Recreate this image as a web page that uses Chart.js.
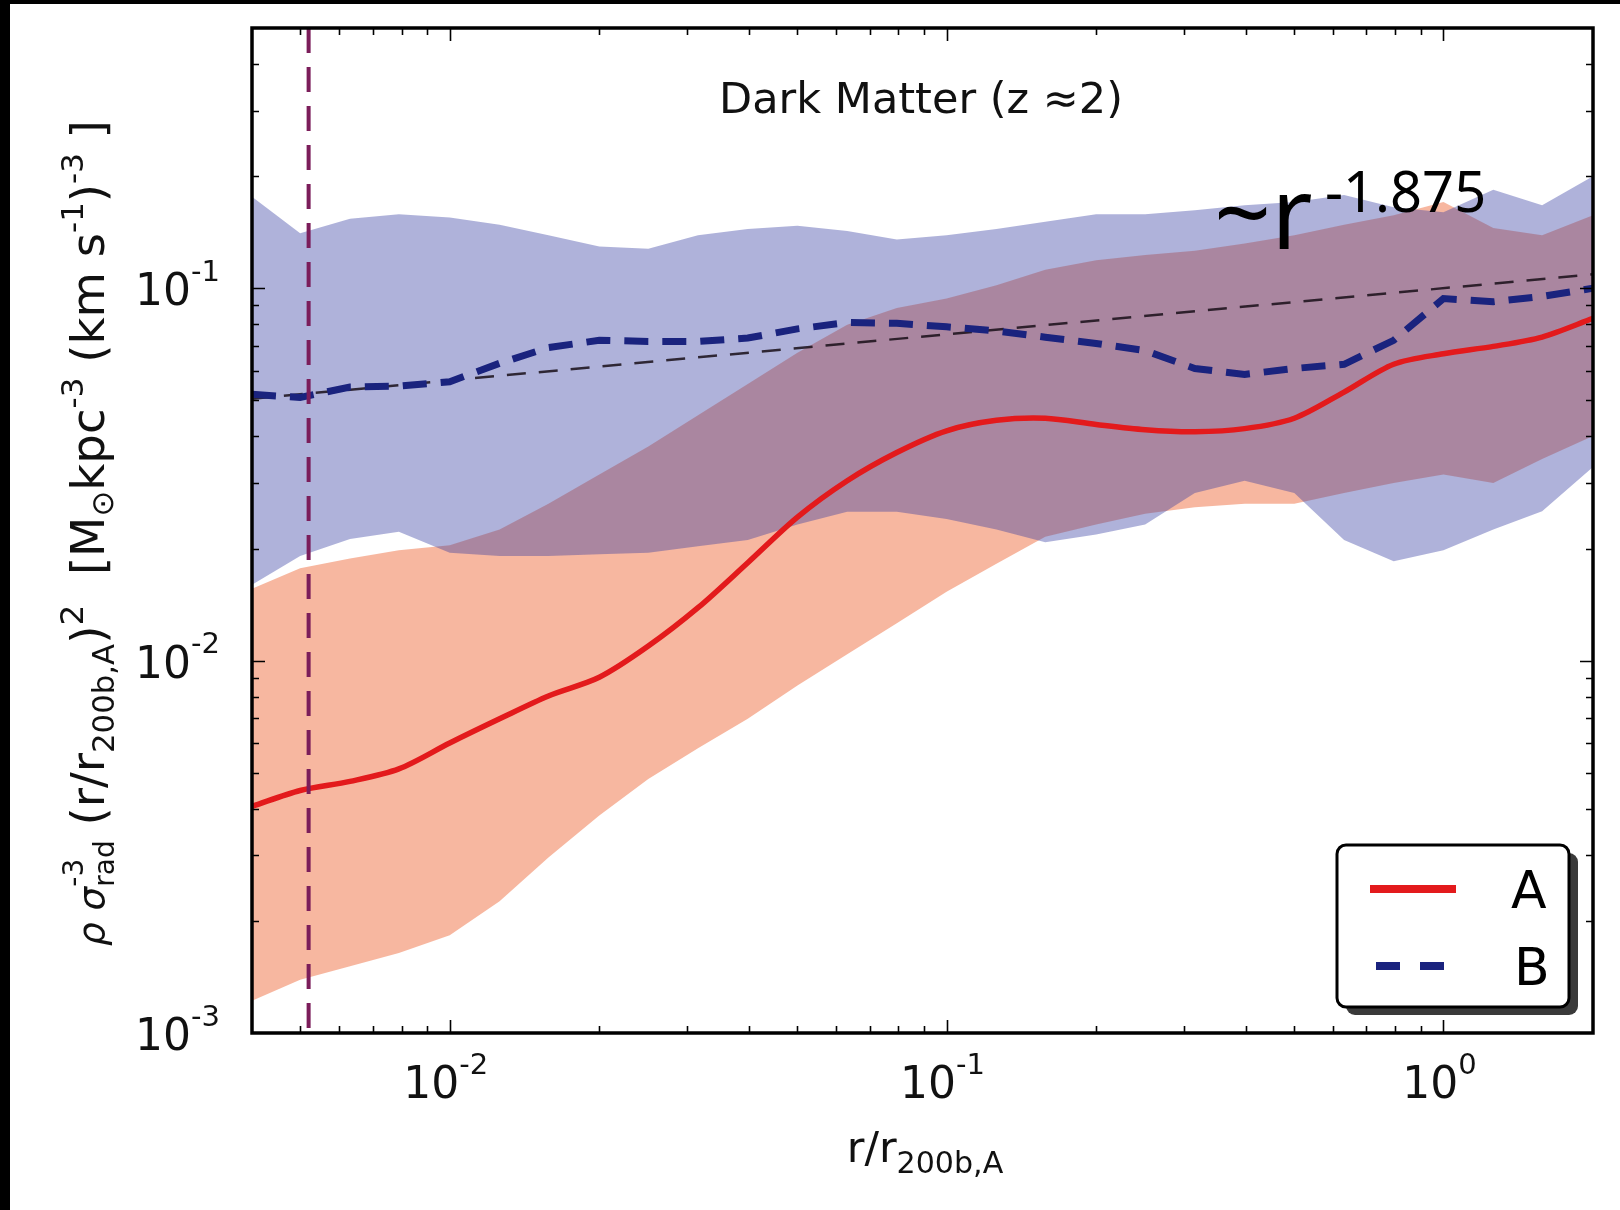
<!DOCTYPE html>
<html><head><meta charset="utf-8">
<script src="https://cdn.jsdelivr.net/npm/chart.js@4.4.1/dist/chart.umd.min.js"></script>
<style>html,body{margin:0;padding:0;background:#fff;}canvas{display:block;}</style>
</head><body>
<canvas id="c" width="1620" height="1210" style="width:1620px;height:1210px"></canvas>
<script>
// ---------------- data ----------------
const radius = [0.004, 0.005, 0.0063, 0.0079, 0.01, 0.0126, 0.0158, 0.02, 0.0251, 0.0316, 0.0398, 0.0501, 0.0631, 0.0794, 0.1, 0.126, 0.158, 0.2, 0.251, 0.316, 0.398, 0.501, 0.631, 0.794, 1.0, 1.26, 1.58, 2.0];
const medianA = [0.00406,0.00448,0.00474,0.00512,0.00601,0.00698,0.00804,0.00902,0.01094,0.01387,0.01832,0.02429,0.03042,0.03622,0.04142,0.04419,0.04477,0.04306,0.04169,0.04118,0.04198,0.04477,0.05262,0.06252,0.0667,0.06982,0.07396,0.08298];
const medianB = [0.0519,0.0509,0.0543,0.0546,0.0561,0.0629,0.0693,0.0725,0.0720,0.0720,0.0735,0.0778,0.0809,0.0805,0.0788,0.0768,0.0739,0.0711,0.0680,0.0609,0.0587,0.0609,0.0625,0.0725,0.0938,0.0920,0.0951,0.100];
const upperA = [0.0156,0.0177,0.0188,0.0198,0.0204,0.0225,0.0264,0.0316,0.0376,0.0456,0.0553,0.0671,0.0798,0.0885,0.0938,0.1019,0.1122,0.1189,0.1228,0.1261,0.1318,0.1387,0.148,0.157,0.1706,0.1452,0.1387,0.157];
const lowerA = [0.00122,0.00139,0.00151,0.00164,0.00183,0.00226,0.00296,0.00384,0.00481,0.00582,0.00698,0.00857,0.0104,0.0126,0.0153,0.0182,0.0215,0.0232,0.0248,0.0258,0.0264,0.0264,0.0282,0.0300,0.0316,0.0300,0.0348,0.0401];
const upperB = [0.176,0.1406,0.1538,0.158,0.1548,0.148,0.1387,0.1294,0.1276,0.1387,0.1442,0.1472,0.1426,0.1353,0.1387,0.1442,0.151,0.158,0.158,0.162,0.167,0.1706,0.178,0.165,0.160,0.184,0.167,0.2];
const lowerB = [0.016,0.0191,0.0212,0.0222,0.0195,0.0191,0.0191,0.0193,0.0195,0.0203,0.0211,0.0232,0.0251,0.0251,0.024,0.0225,0.0208,0.0218,0.0232,0.0282,0.0304,0.0282,0.0211,0.0185,0.0198,0.0225,0.0252,0.0331];
const powerLawX = [0.004, 2];
const powerLawY = [0.0505, 0.109];
const markerX = 0.0052;
const xRange = [0.004, 2];
const yRange = [0.001, 0.5];
const xMajorTicks = [0.01, 0.1, 1];
const yMajorTicks = [0.001, 0.01, 0.1];
const titleText = 'Dark Matter (z \u22482)';
const legendLabels = ['A', 'B'];
const annotationBase = '~r';
const annotationExp = '-1.875';

// ---------------- helpers ----------------
const FAM = '"DejaVu Sans", sans-serif';
const pts = (xs, ys) => xs.map((x, i) => ({x: x, y: ys[i]}));
function fnt(size, it) { return (it ? 'italic ' : '') + size + 'px ' + FAM; }
function richWidth(ctx, segs, F) {
  let w = 0, pend = 0;
  for (const s of segs) {
    ctx.font = fnt(F * (s.k || 1), s.it);
    const sw = ctx.measureText(s.t).width;
    if (s.noAdv) { pend = sw; continue; }
    w += Math.max(sw, pend); pend = 0;
  }
  return w + pend;
}
function drawRich(ctx, segs, x, y, F) {
  let pend = 0;
  for (const s of segs) {
    ctx.font = fnt(F * (s.k || 1), s.it);
    ctx.fillText(s.t, x, y + (s.dy || 0) * F);
    const sw = ctx.measureText(s.t).width;
    if (s.noAdv) { pend = sw; continue; }
    x += Math.max(sw, pend); pend = 0;
  }
}
function expLabel(v) {
  const e = Math.round(Math.log10(v));
  return [{t: '10', k: 1}, {t: e === 0 ? '0' : '-' + Math.abs(e), k: 0.66, dy: -0.55}];
}
function tickVals(min, max) {
  const out = [];
  for (let e = Math.floor(Math.log10(min)); e <= Math.ceil(Math.log10(max)); e++) {
    for (let m = 1; m <= 9; m++) {
      const v = m * Math.pow(10, e);
      if (v > min * 1.0001 && v < max * 0.9999) out.push({v: v, major: m === 1});
    }
  }
  return out;
}

const yLabelSegs = [
  {t: '\u03c1', k: 0.8, it: true},
  {t: ' ', k: 0.8},
  {t: '\u03c3', k: 0.8, it: true},
  {t: '-3', k: 0.6, dy: -0.45, noAdv: true},
  {t: 'rad', k: 0.6, dy: 0.22},
  {t: ' (r/r', k: 1},
  {t: '200b,A', k: 0.66, dy: 0.22},
  {t: ')', k: 1},
  {t: '2', k: 0.7, dy: -0.45},
  {t: '  [M', k: 1},
  {t: '\u2299', k: 0.66, dy: 0.2},
  {t: 'kpc', k: 1},
  {t: '-3', k: 0.66, dy: -0.45},
  {t: ' (km s', k: 1},
  {t: '-1', k: 0.66, dy: -0.45},
  {t: ')', k: 1},
  {t: '-3', k: 0.66, dy: -0.45},
  {t: ' ]', k: 1}
];
const xLabelSegs = [{t: 'r/r', k: 1}, {t: '200b,A', k: 0.7, dy: 0.25}];

const decor = {
  id: 'decor',
  afterDraw(chart) {
    const ctx = chart.ctx, a = chart.chartArea;
    const xs = chart.scales.x, ys = chart.scales.y;
    ctx.save();
    // ticks (inward, all four sides)
    ctx.strokeStyle = '#000'; ctx.lineWidth = 1.6;
    for (const t of tickVals(xRange[0], xRange[1])) {
      const px = Math.round(xs.getPixelForValue(t.v)) + 0.5, L = t.major ? 13 : 7;
      ctx.beginPath(); ctx.moveTo(px, a.bottom); ctx.lineTo(px, a.bottom - L);
      ctx.moveTo(px, a.top); ctx.lineTo(px, a.top + L); ctx.stroke();
    }
    for (const t of tickVals(yRange[0], yRange[1])) {
      const py = Math.round(ys.getPixelForValue(t.v)) + 0.5, L = t.major ? 13 : 7;
      ctx.beginPath(); ctx.moveTo(a.left, py); ctx.lineTo(a.left + L, py);
      ctx.moveTo(a.right, py); ctx.lineTo(a.right - L, py); ctx.stroke();
    }
    // frame
    ctx.lineWidth = 3.5;
    ctx.strokeRect(a.left, a.top, a.right - a.left, a.bottom - a.top);
    // tick labels
    ctx.fillStyle = '#111'; ctx.textBaseline = 'alphabetic';
    const TF = 44;
    for (const v of yMajorTicks) {
      const py = ys.getPixelForValue(v);
      const segs = expLabel(v);
      const w = richWidth(ctx, segs, TF);
      drawRich(ctx, segs, 220 - w, py + 17, TF);
    }
    for (const v of xMajorTicks) {
      const px = xs.getPixelForValue(v);
      const segs = expLabel(v);
      const w = richWidth(ctx, segs, TF);
      drawRich(ctx, segs, px - 4 - w / 2, 1098, TF);
    }
    // x axis title
    {
      const w = richWidth(ctx, xLabelSegs, 43);
      drawRich(ctx, xLabelSegs, 925 - w / 2, 1162, 43);
    }
    // y axis title (rotated), fitted to its extent
    {
      const target = 826;
      const w0 = richWidth(ctx, yLabelSegs, 40);
      const F = 40 * target / w0;
      ctx.save();
      ctx.translate(104, 533);
      ctx.rotate(-Math.PI / 2);
      drawRich(ctx, yLabelSegs, -target / 2, 0, F);
      ctx.restore();
    }
    // title
    ctx.font = fnt(43); ctx.textAlign = 'center';
    ctx.fillText(titleText, 921, 113);
    ctx.textAlign = 'left';
    // annotation
    ctx.fillStyle = '#000';
    ctx.font = '100px "Noto Sans", sans-serif';
    ctx.fillText(annotationBase, 1214, 249);
    ctx.font = '56px "Noto Sans", sans-serif';
    ctx.fillText(annotationExp, 1325, 212);
    // legend
    const lx = 1337, ly = 845, lw = 232, lh = 162, r = 9;
    function rr(x, y, w, h) {
      ctx.beginPath(); ctx.moveTo(x + r, y); ctx.arcTo(x + w, y, x + w, y + h, r);
      ctx.arcTo(x + w, y + h, x, y + h, r); ctx.arcTo(x, y + h, x, y, r); ctx.arcTo(x, y, x + w, y, r); ctx.closePath();
    }
    ctx.fillStyle = '#3a3a3a'; rr(lx + 9, ly + 8, lw, lh); ctx.fill();
    ctx.fillStyle = '#fff'; rr(lx, ly, lw, lh); ctx.fill();
    ctx.strokeStyle = '#000'; ctx.lineWidth = 3; rr(lx, ly, lw, lh); ctx.stroke();
    ctx.lineCap = 'butt';
    ctx.strokeStyle = '#e31a1c'; ctx.lineWidth = 8;
    ctx.beginPath(); ctx.moveTo(1370, 889); ctx.lineTo(1456, 889); ctx.stroke();
    ctx.strokeStyle = '#1a237e'; ctx.setLineDash([24, 20]);
    ctx.beginPath(); ctx.moveTo(1376, 966); ctx.lineTo(1446, 966); ctx.stroke();
    ctx.setLineDash([]);
    ctx.fillStyle = '#000'; ctx.font = fnt(52);
    ctx.fillText(legendLabels[0], 1511, 908);
    ctx.fillText(legendLabels[1], 1514, 985);
    // black image border (left/top)
    ctx.fillStyle = '#000';
    ctx.fillRect(0, 0, 10, 1210);
    ctx.fillRect(0, 0, 1620, 4);
    ctx.restore();
  }
};

new Chart(document.getElementById('c'), {
  type: 'line',
  data: {
    datasets: [
      {label: 'A low', data: pts(radius, lowerA), borderWidth: 0, pointRadius: 0, fill: false, order: 6},
      {label: 'A high', data: pts(radius, upperA), borderWidth: 0, pointRadius: 0, fill: 0, backgroundColor: 'rgba(239,111,65,0.5)', order: 6},
      {label: 'B low', data: pts(radius, lowerB), borderWidth: 0, pointRadius: 0, fill: false, order: 5},
      {label: 'B high', data: pts(radius, upperB), borderWidth: 0, pointRadius: 0, fill: 2, backgroundColor: 'rgba(55,63,163,0.4)', order: 5},
      {label: 'power law', data: pts(powerLawX, powerLawY), borderColor: 'rgba(25,15,25,0.85)', borderWidth: 2.5, borderDash: [19, 13], pointRadius: 0, fill: false, order: 3},
      {label: 'A', data: pts(radius, medianA), borderColor: '#e31a1c', borderWidth: 5.5, pointRadius: 0, fill: false, tension: 0.3, order: 2},
      {label: 'B', data: pts(radius, medianB), borderColor: '#1a237e', borderWidth: 7, borderDash: [24, 14], pointRadius: 0, fill: false, order: 1},
      {label: 'marker', data: [{x: markerX, y: yRange[1]}, {x: markerX, y: yRange[0]}], borderColor: '#7b1d5a', borderWidth: 4, borderDash: [25, 14], pointRadius: 0, fill: false, order: 0}
    ]
  },
  options: {
    responsive: false, animation: false, devicePixelRatio: 1,
    layout: {padding: {left: 252, right: 27, top: 28, bottom: 177}},
    plugins: {legend: {display: false}, tooltip: {enabled: false}, title: {display: false}},
    scales: {
      x: {type: 'logarithmic', min: xRange[0], max: xRange[1], display: false},
      y: {type: 'logarithmic', min: yRange[0], max: yRange[1], display: false}
    }
  },
  plugins: [decor]
});
</script>
</body></html>
